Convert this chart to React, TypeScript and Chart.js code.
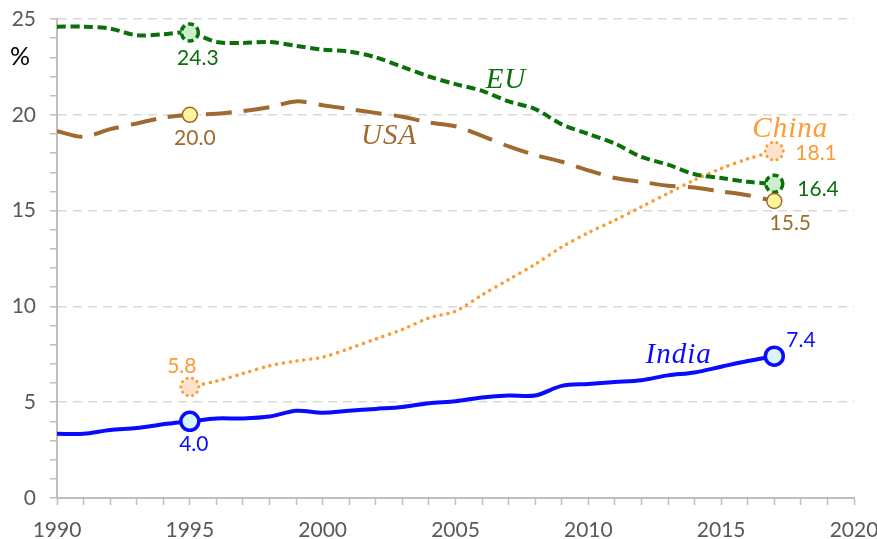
import React, { useEffect, useRef } from "react";
import { Chart, registerables } from "chart.js";
Chart.register(...registerables);

const years = [1990, 1991, 1992, 1993, 1994, 1995, 1996, 1997, 1998, 1999, 2000, 2001, 2002, 2003, 2004, 2005, 2006, 2007, 2008, 2009, 2010, 2011, 2012, 2013, 2014, 2015, 2016, 2017];
const euValues = [24.6, 24.6, 24.5, 24.15, 24.2, 24.3, 23.8, 23.75, 23.8, 23.6, 23.4, 23.3, 23.0, 22.5, 22.0, 21.6, 21.25, 20.7, 20.3, 19.5, 19.0, 18.5, 17.8, 17.4, 16.9, 16.7, 16.5, 16.4];
const usaValues = [19.15, 18.85, 19.25, 19.55, 19.85, 20.0, 20.05, 20.2, 20.4, 20.7, 20.5, 20.3, 20.1, 19.9, 19.6, 19.4, 18.9, 18.35, 17.9, 17.55, 17.1, 16.7, 16.5, 16.3, 16.2, 16.0, 15.8, 15.5];
const chinaValues = [null, null, null, null, null, 5.8, 6.1, 6.5, 6.9, 7.15, 7.35, 7.8, 8.3, 8.8, 9.4, 9.75, 10.6, 11.4, 12.2, 13.1, 13.85, 14.5, 15.2, 15.9, 16.6, 17.2, 17.7, 18.1];
const indiaValues = [3.35, 3.35, 3.55, 3.65, 3.85, 4.0, 4.15, 4.15, 4.25, 4.55, 4.45, 4.55, 4.65, 4.75, 4.95, 5.05, 5.25, 5.35, 5.35, 5.85, 5.95, 6.05, 6.15, 6.4, 6.55, 6.85, 7.15, 7.4];
const seriesNames = ["EU", "USA", "China", "India"];
const markedYears = [1995, 2017];
const xTickStep = 1;
const yTickStep = 1;

const colors = {
  EU: "#0a700a",
  USA: "#a0692f",
  China: "#ff9933",
  India: "#0a0aff",
};

// name label anchors in data coordinates
const nameAnchors: Record<string, [number, number]> = {
  EU: [2006.9, 21.8],
  USA: [2002.5, 18.9],
  China: [2017.6, 19.25],
  India: [2013.4, 7.45],
};

// value label placement relative to marker pixel: [dx, dy, align]
const valueLabelOffsets: Record<string, Array<[number, number, CanvasTextAlign]>> = {
  EU: [[8, 26, "center"], [23, 5, "left"]],
  USA: [[5, 23, "center"], [16, 22, "center"]],
  China: [[-8, -21, "center"], [21, 2, "left"]],
  India: [[4, 23, "center"], [12, -16, "left"]],
};

const markerStyles: Record<string, { fill: string; stroke: string; width: number; dash: number[]; r: number; cap: CanvasLineCap }> = {
  EU: { fill: "#cdeecd", stroke: "#0a700a", width: 3.5, dash: [6, 3.5], r: 8.5, cap: "butt" },
  USA: { fill: "#fff59a", stroke: "#a0692f", width: 1.5, dash: [], r: 7.5, cap: "butt" },
  China: { fill: "#fde3cc", stroke: "#ff9933", width: 3, dash: [0.1, 5.5], r: 9, cap: "round" },
  India: { fill: "#d8f4ff", stroke: "#0a0aff", width: 3.5, dash: [], r: 9, cap: "butt" },
};

const labelFont = '21px "Lato", "Open Sans", sans-serif';

const overlayPlugin = {
  id: "overlay",
  afterDatasetsDraw(chart: any) {
    const ctx = chart.ctx as CanvasRenderingContext2D;
    const xs = chart.scales.x;
    const ys = chart.scales.y;
    chart.data.datasets.forEach((ds: any, di: number) => {
      const name = seriesNames[di];
      const st = markerStyles[name];
      markedYears.forEach((yr, mi) => {
        const pt = ds.data.find((p: any) => p.x === yr);
        if (!pt || pt.y == null) return;
        const px = xs.getPixelForValue(pt.x);
        const py = ys.getPixelForValue(pt.y);
        ctx.save();
        ctx.beginPath();
        ctx.arc(px, py, st.r, 0, Math.PI * 2);
        ctx.fillStyle = st.fill;
        ctx.fill();
        ctx.setLineDash(st.dash);
        ctx.lineCap = st.cap;
        ctx.lineWidth = st.width;
        ctx.strokeStyle = st.stroke;
        ctx.stroke();
        ctx.restore();
        const [dx, dy, align] = valueLabelOffsets[name][mi];
        ctx.save();
        ctx.font = labelFont;
        ctx.fillStyle = colors[name as keyof typeof colors];
        ctx.textAlign = align;
        ctx.textBaseline = "middle";
        ctx.fillText(pt.y.toFixed(1), px + dx, py + dy);
        ctx.restore();
      });
      const [ax, ay] = nameAnchors[name];
      ctx.save();
      ctx.font = 'italic 29px "Liberation Serif", "DejaVu Serif", serif';
      ctx.fillStyle = colors[name as keyof typeof colors];
      ctx.textAlign = "center";
      ctx.textBaseline = "middle";
      (ctx as any).letterSpacing = "1px";
      ctx.fillText(name, xs.getPixelForValue(ax), ys.getPixelForValue(ay));
      ctx.restore();
    });
    ctx.save();
    ctx.font = '25px "Lato", "Open Sans", sans-serif';
    ctx.fillStyle = "#000000";
    ctx.textAlign = "center";
    ctx.textBaseline = "middle";
    ctx.fillText("%", 20, chart.chartArea.top + 38);
    ctx.restore();
  },
};

export default function App() {
  const canvasRef = useRef<HTMLCanvasElement | null>(null);
  useEffect(() => {
    const canvas = canvasRef.current;
    if (!canvas) return;
    const mk = (vals: (number | null)[]) => years.map((x, i) => ({ x, y: vals[i] }));
    const tickFont = { family: '"Lato", "Open Sans", sans-serif', size: 21 };
    const chart = new Chart(canvas, {
      type: "line",
      data: {
        datasets: [
          { label: "EU", data: mk(euValues), borderColor: colors.EU, borderWidth: 4, borderDash: [9, 4.5], pointRadius: 0, tension: 0.3, fill: false },
          { label: "USA", data: mk(usaValues), borderColor: colors.USA, borderWidth: 4, borderDash: [26, 12], pointRadius: 0, tension: 0.3, fill: false },
          { label: "China", data: mk(chinaValues), borderColor: colors.China, borderWidth: 3.5, borderDash: [0.1, 6.8], borderCapStyle: "round", pointRadius: 0, tension: 0.3, fill: false, spanGaps: false },
          { label: "India", data: mk(indiaValues), borderColor: colors.India, borderWidth: 4, pointRadius: 0, tension: 0.3, fill: false },
        ] as any,
      },
      options: {
        responsive: false,
        animation: false,
        layout: { padding: { top: 19, right: 23, left: 0, bottom: 0 } },
        plugins: { legend: { display: false }, tooltip: { enabled: false } },
        scales: {
          x: {
            type: "linear",
            min: 1990,
            max: 2020,
            afterFit: (s: any) => { s.height = 41; s.paddingLeft = 0; s.paddingRight = 0; },
            ticks: {
              stepSize: xTickStep,
              autoSkip: false,
              maxRotation: 0,
              padding: 13,
              color: "#595959",
              font: tickFont,
              callback: (v: any) => (Number(v) % 5 === 0 ? String(v) : ""),
            },
            grid: {
              drawOnChartArea: false,
              tickLength: 7,
              tickColor: "#bfbfbf",
              tickWidth: 1.5,
            },
            border: { color: "#bfbfbf", width: 2 },
          },
          y: {
            min: 0,
            max: 25,
            afterFit: (s: any) => { s.width = 57; s.paddingTop = 0; s.paddingBottom = 0; },
            ticks: {
              stepSize: yTickStep,
              autoSkip: false,
              padding: 14,
              color: "#595959",
              font: tickFont,
              callback: (v: any) => (Number(v) % 5 === 0 ? String(v) : ""),
            },
            grid: {
              color: (c: any) => (c.tick && c.tick.value % 5 === 0 && c.tick.value !== 0 ? "#d9d9d9" : "rgba(0,0,0,0)"),
              lineWidth: 1.5,
              tickLength: 7,
              tickColor: "#bfbfbf",
              tickWidth: 1.5,
            },
            border: { color: "#bfbfbf", width: 2, dash: [9, 6] },
          },
        },
      } as any,
      plugins: [overlayPlugin],
    });
    return () => chart.destroy();
  }, []);
  return (
    <div style={{ position: "absolute", left: 0, top: 0, width: 877, height: 539, background: "#ffffff" }}>
      <canvas ref={canvasRef} width={877} height={539} style={{ display: "block" }} />
    </div>
  );
}
